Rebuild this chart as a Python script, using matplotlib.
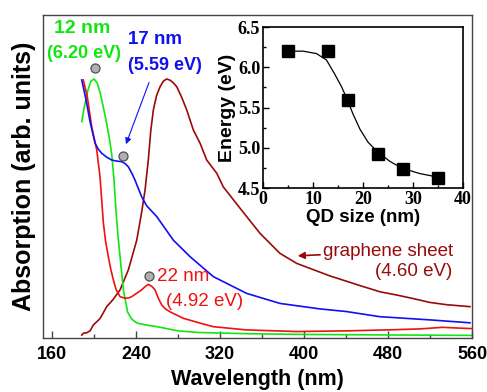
import matplotlib
matplotlib.use("Agg")
import matplotlib.pyplot as plt

plt.rcParams['font.family'] = ['Liberation Sans', 'DejaVu Sans']

# ---------------- data ----------------
wl_12 = [188.3, 191, 194, 197, 200, 203, 206, 209, 212, 215, 217, 219, 221, 223, 225, 228, 232, 236, 241,
         250, 260, 280, 300, 350, 400, 450, 500, 560]
ab_12 = [0.670, 0.720, 0.765, 0.795, 0.802, 0.790, 0.757, 0.712, 0.665, 0.610, 0.565, 0.490, 0.390, 0.310,
         0.245, 0.148, 0.080, 0.058, 0.046, 0.040, 0.035, 0.022, 0.017, 0.013, 0.011, 0.010, 0.009, 0.008]

wl_17 = [188.3, 192.4, 196.2, 201, 204, 207.3, 212, 216.9, 221, 226.4, 229.5, 232.7, 236, 239, 245.4, 250,
         259.7, 275.5, 291.4, 313.6, 345.4, 377.1, 415.2, 440, 472, 520, 558]
ab_17 = [0.799, 0.737, 0.670, 0.603, 0.585, 0.572, 0.560, 0.551, 0.548, 0.546, 0.540, 0.530, 0.510, 0.489,
         0.437, 0.410, 0.376, 0.303, 0.252, 0.190, 0.138, 0.107, 0.090, 0.082, 0.066, 0.056, 0.047]

wl_22 = [189.8, 193.6, 197.8, 202.6, 205.7, 207.3, 208.9, 211, 213.6, 216, 218.4, 221, 224.8, 229.5, 233,
         235.9, 240, 245.4, 249, 251.7, 255, 258.1, 261, 264.5, 268, 272.4, 278, 285, 301, 313.6, 345, 393,
         440, 479, 510, 532, 545, 560]
ab_22 = [0.799, 0.747, 0.654, 0.582, 0.499, 0.427, 0.356, 0.300, 0.252, 0.212, 0.180, 0.150, 0.128, 0.123,
         0.124, 0.128, 0.137, 0.149, 0.160, 0.166, 0.160, 0.149, 0.125, 0.102, 0.090, 0.081, 0.072, 0.061,
         0.046, 0.035, 0.025, 0.020, 0.022, 0.025, 0.028, 0.033, 0.031, 0.029]

wl_gs = [188.3, 190, 193, 196.2, 199.3, 205.7, 212.1, 218.4, 224.8, 232.7, 240.7, 245.4, 248.6, 251.7, 254,
         256.5, 259.5, 262.9, 266, 269.2, 272.5, 275.5, 278.8, 283.5, 288.3, 294.6, 301, 307.3, 316.9, 323.1,
         339, 358.1, 377.1, 393, 424.8, 456.5, 472.4, 488.3, 504, 520, 536, 558]
ab_gs = [0.009, 0.015, 0.016, 0.022, 0.040, 0.060, 0.097, 0.120, 0.149, 0.211, 0.303, 0.390, 0.458, 0.551,
         0.640, 0.706, 0.750, 0.778, 0.795, 0.802, 0.798, 0.790, 0.778, 0.745, 0.706, 0.644, 0.603, 0.551,
         0.510, 0.468, 0.402, 0.324, 0.262, 0.231, 0.192, 0.159, 0.143, 0.133, 0.122, 0.110, 0.103, 0.097]

# peak markers (wavelength, absorbance)
mk_wl = [200.9, 227.9, 252.4]
mk_ab = [0.835, 0.564, 0.192]

# inset data
qd_size = [5, 13, 17, 23, 28, 35]
qd_energy = [6.20, 6.20, 5.59, 4.92, 4.74, 4.63]
fit_size = [5, 8, 10.7, 12.7, 14.3, 15.7, 16.7, 18, 19.4, 21, 22.9, 25.4, 27.7, 31.3, 35]
fit_energy = [6.20, 6.20, 6.17, 6.09, 5.92, 5.76, 5.62, 5.42, 5.23, 5.07, 4.95, 4.83, 4.75, 4.68, 4.635]

x_ticks = [160, 240, 320, 400, 480, 560]
inset_xticks = [0, 10, 20, 30, 40]
inset_yticks = [4.5, 5.0, 5.5, 6.0, 6.5]

# ---------------- figure ----------------
fig = plt.figure(figsize=(4.87, 3.92), dpi=100)
ax = fig.add_axes([0.0883, 0.1378, 0.9692 - 0.0883, 0.9617 - 0.1378])

c_green = '#11e611'
c_blue = '#1010f0'
c_red = '#f01010'
c_dred = '#9a0a0a'

ax.plot(wl_gs, ab_gs, color=c_dred, lw=1.2)
ax.plot(wl_12, ab_12, color=c_green, lw=1.2)
ax.plot(wl_22, ab_22, color=c_red, lw=1.2)
ax.plot(wl_17, ab_17, color=c_blue, lw=1.2)
ax.plot(mk_wl, mk_ab, ls='none', marker='o', ms=6.5, mfc='#b0b0b0', mec='#505050', mew=0.9)

ax.set_xlim(151.4, 560)
ax.set_ylim(0, 1)
ax.set_xticks(x_ticks)
ax.set_xticks([200, 280, 360, 440, 520], minor=True)
ax.set_yticks([])
ax.tick_params(axis='x', which='major', direction='in', length=5, width=1, colors='#444444',
               labelsize=13, labelcolor='black', pad=6)
ax.tick_params(axis='x', which='minor', direction='in', length=3, width=1, colors='#444444')
for lab in ax.get_xticklabels():
    lab.set_fontweight('bold')
for s in ax.spines.values():
    s.set_color('#444444')
    s.set_linewidth(1.0)

ax.set_xlabel('Wavelength (nm)', fontsize=15.5, fontweight='bold', labelpad=4)
ax.set_ylabel('Absorption (arb. units)', fontsize=18, fontweight='bold', labelpad=5)

# annotations
ax.text(189, 0.957, '12 nm', color=c_green, fontsize=14, fontweight='bold', ha='center', va='center')
ax.text(190.5, 0.882, '(6.20 eV)', color=c_green, fontsize=13, fontweight='bold', ha='center', va='center')
ax.text(232.4, 0.923, '17 nm', color=c_blue, fontsize=13.5, fontweight='bold', ha='left', va='center')
ax.text(232.0, 0.845, '(5.59 eV)', color=c_blue, fontsize=13, fontweight='bold', ha='left', va='center')
ax.annotate('', xy=(229.5, 0.592), xytext=(253.3, 0.799),
            arrowprops=dict(arrowstyle='-|>', color=c_blue, lw=0.8, mutation_scale=9))
ax.text(260, 0.190, '22 nm', color=c_red, fontsize=13.5, ha='left', va='center')
ax.text(268.6, 0.112, '(4.92 eV)', color=c_red, fontsize=13.5, ha='left', va='center')
ax.text(418.1, 0.267, 'graphene sheet', color=c_dred, fontsize=13.5, ha='left', va='center')
ax.text(467.6, 0.205, '(4.60 eV)', color=c_dred, fontsize=13.5, ha='left', va='center')
ax.annotate('', xy=(391.4, 0.254), xytext=(418.0, 0.258),
            arrowprops=dict(arrowstyle='-|>', color=c_dred, lw=1.2, mutation_scale=10))

# ---------------- inset ----------------
ia = fig.add_axes([0.540, 0.5204, 0.9507 - 0.540, 0.9311 - 0.5204])
ia.plot(fit_size, fit_energy, color='black', lw=0.9)
ia.plot(qd_size, qd_energy, ls='none', marker='s', ms=8, color='black')
ia.set_xlim(0, 40)
ia.set_ylim(4.5, 6.5)
ia.set_xticks(inset_xticks)
ia.set_yticks(inset_yticks)
ia.set_xticks([5, 15, 25, 35], minor=True)
ia.set_yticks([4.75, 5.25, 5.75, 6.25], minor=True)
ia.set_xticklabels([str(v) for v in inset_xticks])
ia.set_yticklabels(['%.1f' % v for v in inset_yticks])
ia.tick_params(which='major', direction='in', length=4, width=1, labelsize=13, pad=2)
ia.tick_params(which='minor', direction='in', length=2, width=1)
for lab in ia.get_xticklabels() + ia.get_yticklabels():
    lab.set_family('Liberation Serif')
    lab.set_fontweight('bold')
for s in ia.spines.values():
    s.set_linewidth(1.2)
ia.set_xlabel('QD size (nm)', fontsize=13.5, fontweight='bold', labelpad=1)
ia.set_ylabel('Energy (eV)', fontsize=14, fontweight='bold', labelpad=1)

fig.savefig('out.png', dpi=100)
